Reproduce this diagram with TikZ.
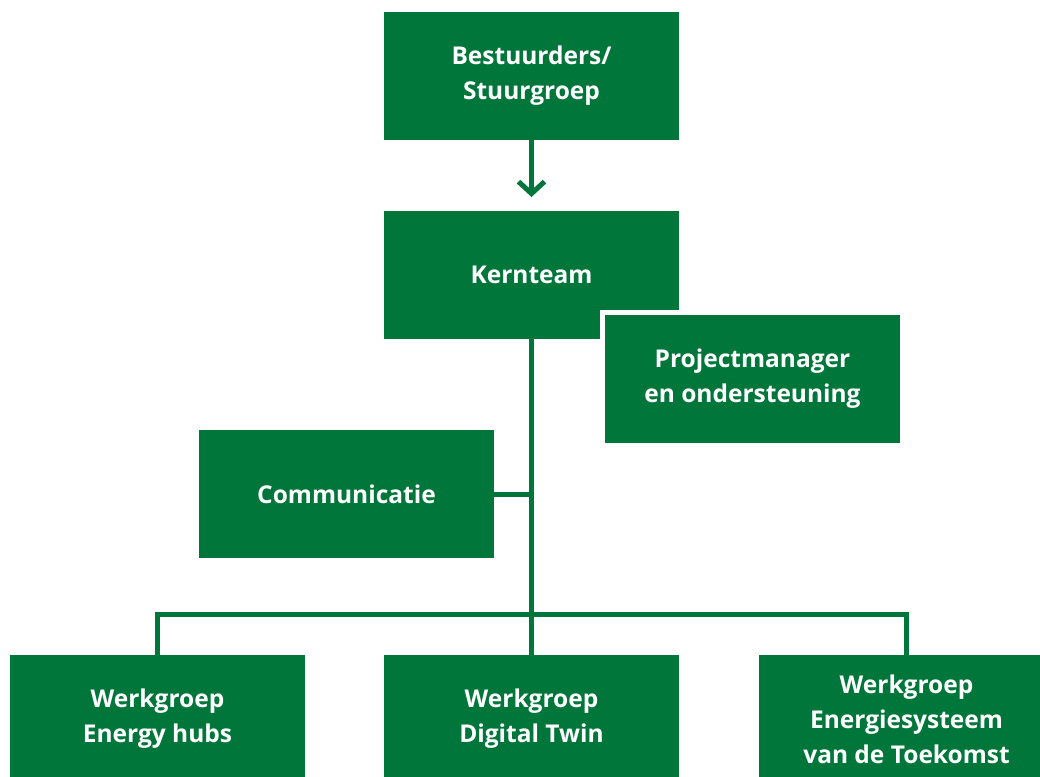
\documentclass[tikz,border=0pt]{standalone}
\usepackage{fontspec}
\setmainfont{Open Sans}
\usetikzlibrary{arrows.meta}
\definecolor{orggreen}{RGB}{0,118,58}
\begin{document}
\begin{tikzpicture}[x=1pt,y=-1pt,
  box/.style={rectangle, fill=orggreen, text=white, minimum width=295pt,
    minimum height=128pt, inner sep=0pt, outer sep=0pt, align=center,
    font=\fontsize{24.5}{35}\selectfont\bfseries},
  gap/.style={rectangle, fill=white, minimum width=305pt, minimum height=138pt,
    inner sep=0pt, outer sep=0pt},
  link/.style={draw=orggreen, line width=5pt}]
\useasboundingbox (0,0) rectangle (1040,776);

\node[box] (stuur) at (531.5,76) {Bestuurders/\\Stuurgroep};
\node[box] (kern) at (531.5,274.5) {Kernteam};
% white margin that separates the project manager box from the core team
\node[gap] (pmgap) at (752.5,378.5) {};
\node[box] (pm) at (752.5,378.5) {Projectmanager\\en ondersteuning};
\node[box] (comm) at (346.5,494) {Communicatie};
\node[box] (hubs) at (157.5,719) {Werkgroep\\Energy hubs};
\node[box] (twin) at (531.5,719) {Werkgroep\\Digital Twin};
\node[box] (toek) at (906.5,719) {Werkgroep\\Energiesysteem\\van de Toekomst};

\coordinate (tip) at (531.5,197);
\coordinate (join) at (531.5,494);
\coordinate (bar) at (531.5,614.5);

\draw[link, -{Straight Barb[length=12pt,width=26pt,line width=5pt]}] (stuur.south) -- (tip);
\draw[link] (kern.south) -- (twin.north);
\draw[link] (comm.east) -- (join);
\draw[link] (hubs.north) |- (bar) -| (toek.north);
\end{tikzpicture}
\end{document}
